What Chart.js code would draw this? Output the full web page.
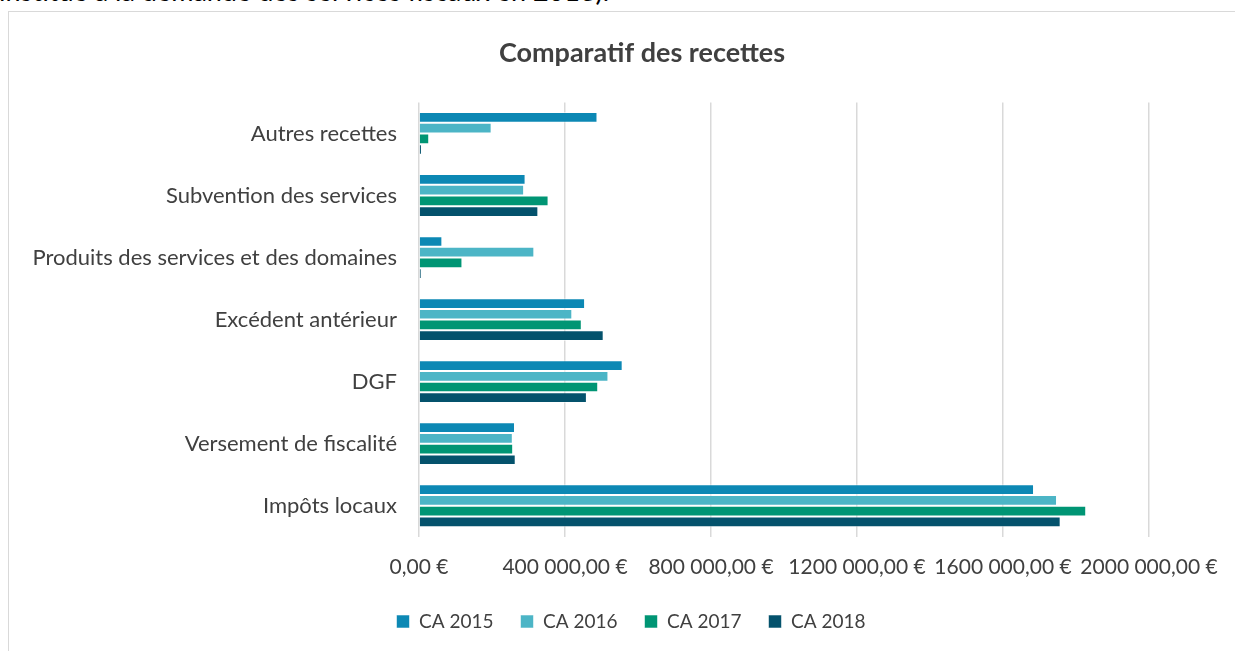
<!DOCTYPE html>
<html>
<head>
<meta charset="utf-8">
<script src="https://cdn.jsdelivr.net/npm/chart.js@4.4.1/dist/chart.umd.min.js"></script>
<style>
  html, body { margin: 0; padding: 0; background: #fff; overflow: hidden; width: 1235px; height: 651px; }
  #topline { position: absolute; left: -1px; top: -25px; font-family: Lato, sans-serif; font-size: 27px; line-height: 32px; color: #000; white-space: nowrap; }
  #frame { position: absolute; left: 8px; top: 11px; width: 1244px; height: 660px; border: 1.5px solid #D9D9D9; background: #fff; }
  #frame canvas { display: block; }
</style>
</head>
<body>
<div id="topline">institué à la demande des services fiscaux en 2018).</div>
<div id="frame"><canvas id="c" width="1244" height="660"></canvas></div>
<script>
const categories = [
  "Autres recettes",
  "Subvention des services",
  "Produits des services et des domaines",
  "Excédent antérieur",
  "DGF",
  "Versement de fiscalité",
  "Impôts locaux"
];
const seriesNames = ["CA 2015", "CA 2016", "CA 2017", "CA 2018"];
const ca2015 = [489000, 292000, 64000, 455000, 558000, 263000, 1685000];
const ca2016 = [199000, 288000, 316000, 420000, 519000, 257000, 1748000];
const ca2017 = [28000, 355000, 119000, 446000, 491000, 258000, 1828000];
const ca2018 = [8000, 327000, 7000, 506000, 460000, 265000, 1758000];
const tickValues = [0, 400000, 800000, 1200000, 1600000, 2000000];
const tickLabels = ["0,00 €", "400 000,00 €", "800 000,00 €", "1200 000,00 €", "1600 000,00 €", "2000 000,00 €"];
const colors = ["#0C88B4", "#4CB5C6", "#009574", "#04526C"];

const seriesValues = [ca2015, ca2016, ca2017, ca2018];
const datasets = seriesNames.map((n, i) => ({
  label: n,
  data: seriesValues[i],
  backgroundColor: colors[i],
  borderColor: "rgba(255,255,255,0.55)",
  borderWidth: 1,
  barPercentage: 1.0,
  categoryPercentage: 0.69
}));

const titleShift = {
  id: "titleShift",
  afterLayout(chart) {
    const t = chart.titleBlock;
    if (t) { t.left += 11; t.right += 11; }
  }
};

new Chart(document.getElementById("c"), {
  type: "bar",
  data: { labels: categories, datasets },
  plugins: [titleShift],
  options: {
    indexAxis: "y",
    responsive: false,
    animation: false,
    layout: { padding: { left: 0, right: 0, top: 0, bottom: 31 } },
    plugins: {
      title: {
        display: true,
        text: "Comparatif des recettes",
        color: "#404040",
        font: { family: "Lato", size: 27, weight: "bold" },
        padding: { top: 25, bottom: 33 }
      },
      legend: {
        display: true,
        position: "bottom",
        labels: {
          color: "#404040",
          font: { family: "Lato", size: 19 },
          boxWidth: 13,
          boxHeight: 13,
          padding: 27
        }
      },
      tooltip: { enabled: false }
    },
    scales: {
      x: {
        min: 0,
        max: 2000000,
        afterBuildTicks: (s) => { s.ticks = tickValues.map(v => ({ value: v })); },
        afterFit: (s) => { s.paddingRight = 104; s.height = s.height - 13; },
        ticks: {
          color: "#404040",
          font: { family: "Lato", size: 21 },
          padding: 18,
          maxRotation: 0,
          autoSkip: false,
          callback: (v, i) => tickLabels[i]
        },
        grid: { color: "#D9D9D9", lineWidth: 1.5, drawTicks: false },
        border: { display: false }
      },
      y: {
        ticks: { color: "#404040", font: { family: "Lato", size: 22 }, padding: 14 },
        grid: { display: false },
        border: { display: false },
        afterFit: (s) => { s.width = 410; }
      }
    }
  }
});
</script>
</body>
</html>
